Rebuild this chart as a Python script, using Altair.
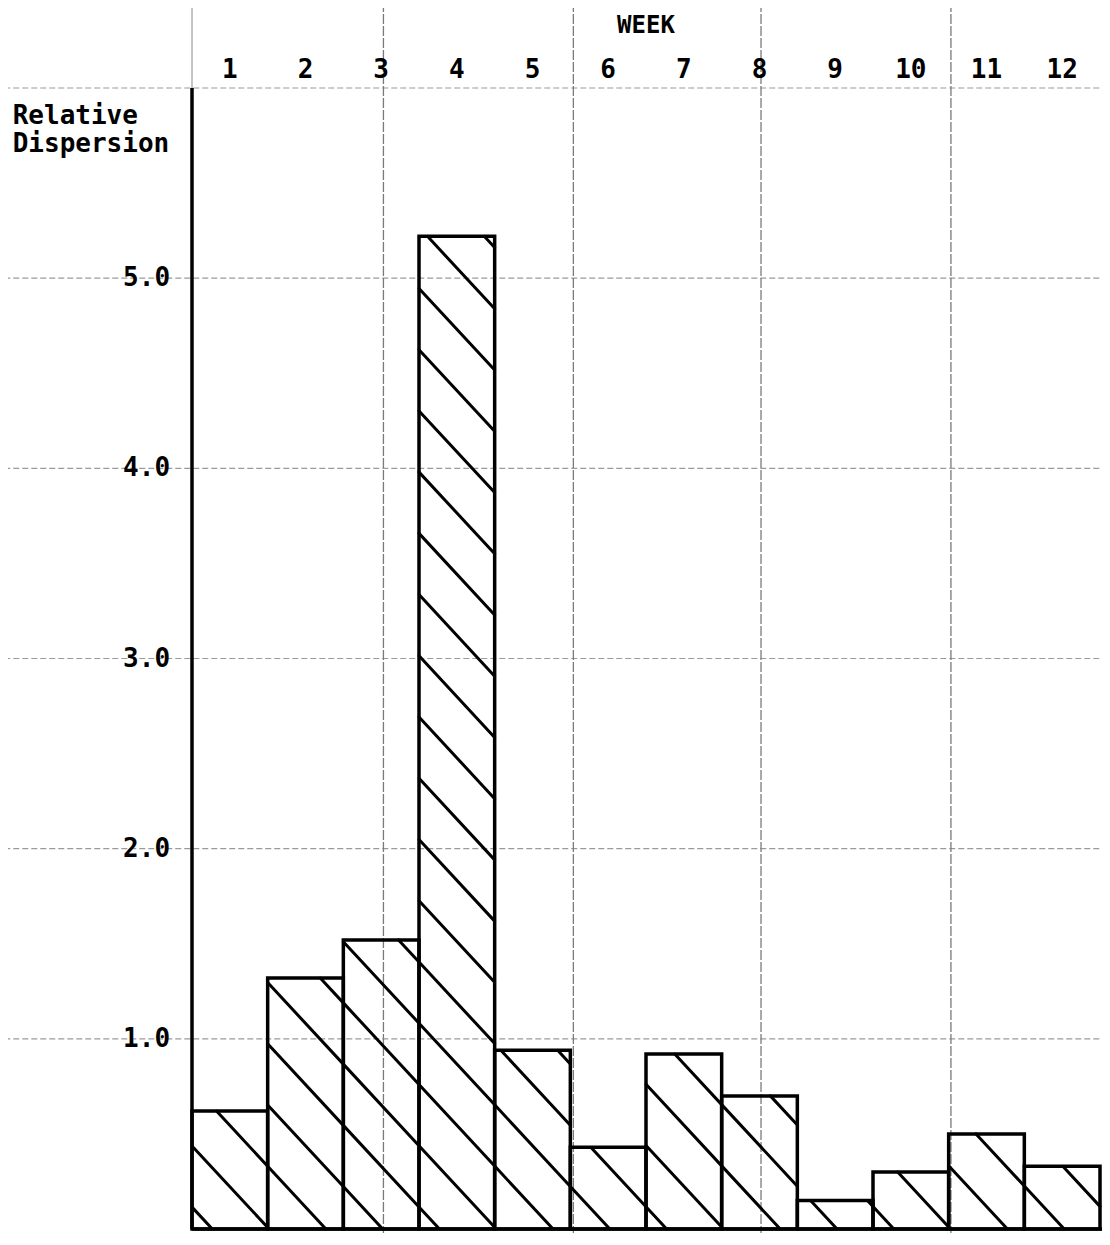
import altair as alt
import pandas as pd
import numpy as np

# ---------------- data ----------------
weeks = list(range(1, 13))
week_labels = [str(w) for w in weeks]
dispersion = [0.62, 1.32, 1.52, 5.22, 0.94, 0.43, 0.92, 0.70, 0.15, 0.30, 0.50, 0.33]
y_ticks = [1.0, 2.0, 3.0, 4.0, 5.0]
y_tick_labels = ["1.0", "2.0", "3.0", "4.0", "5.0"]
paper_grid_x = [2.53, 5.04, 7.52, 10.03]   # vertical lines of the graph paper (in weeks)
paper_grid_y = [1.0, 2.0, 3.0, 4.0, 5.0, 6.0]
y_title_lines = ["Relative", "Dispersion"]
x_title = "WEEK"

# hatch style (slope in value-units per week, spacing, phase)
HATCH_SLOPE = 0.429
HATCH_STEP = 0.322
HATCH_PHASE = 0.115

FONT = "DejaVu Sans Mono"

W, H = 1094, 1225
X0, X12 = 184.0, 1092.0  # pixel columns of week-edge 0 and 12
Y0, Y6 = 1221.0, 80.0    # pixel rows of value 0 and value 6

# ---------------- scales ----------------
xs = alt.Scale(domain=[0, 12], range=[X0, X12], nice=False, zero=False)
ys = alt.Scale(domain=[0, 6], range=[Y0, Y6], nice=False, zero=False)

def X(f):
    return alt.X(f, type="quantitative", scale=xs, axis=None)

def Y(f):
    return alt.Y(f, type="quantitative", scale=ys, axis=None)

# ---------------- tables ----------------
bars = pd.DataFrame({
    "x0": [w - 1 for w in weeks],
    "x1": weeks,
    "y0": [0.0] * 12,
    "v": dispersion,
})

segs = []
m, step, ph = HATCH_SLOPE, HATCH_STEP, HATCH_PHASE
for i, h in enumerate(dispersion):
    a, b = float(i), float(i + 1)
    kmin = int(np.floor((m * a - ph) / step)) - 1
    kmax = int(np.ceil((h + m * b - ph) / step)) + 1
    for k in range(kmin, kmax + 1):
        C = ph + k * step
        xa = max(a, (C - h) / m)
        xb = min(b, C / m)
        if xb - xa > 0.03:
            segs.append({"x": xa, "y": C - m * xa, "x2": xb, "y2": C - m * xb})
hatch = pd.DataFrame(segs)

hgrid = pd.DataFrame({"y": paper_grid_y, "xa": [-2.6] * len(paper_grid_y), "xb": [12.6] * len(paper_grid_y)})
vgrid = pd.DataFrame({"x": paper_grid_x, "ya": [-0.1] * len(paper_grid_x), "yb": [6.6] * len(paper_grid_x)})

ticks = pd.DataFrame({"y": y_ticks, "t": y_tick_labels, "x": [-0.29] * len(y_ticks)})
wk = pd.DataFrame({"x": [w - 0.5 for w in weeks], "t": week_labels, "y": [6.05] * 12})
ytitle = pd.DataFrame({"x": [-2.37, -2.37], "y": [5.81, 5.665], "t": y_title_lines})
xtitle = pd.DataFrame({"x": [6.0], "y": [6.29], "t": [x_title]})

axes = pd.DataFrame({
    "x": [0.0, 0.0, 0.0],
    "x2": [0.0, 12.6, 0.0],
    "y": [0.0, 0.0, 6.0],
    "y2": [6.0, 0.0, 6.6],
    "w": [3.5, 3.5, 1.0],
    "c": ["black", "black", "#8a8a8a"],
})

# ---------------- layers ----------------
hgrid_style = dict(stroke="#9a9a9a", strokeWidth=1.2, strokeDash=[6, 3])
vgrid_style = dict(stroke="#7a7a7a", strokeWidth=1.3, strokeDash=[10, 2])

hg = alt.Chart(hgrid).mark_rule(**hgrid_style).encode(y=Y("y"), x=X("xa"), x2="xb")
vg = alt.Chart(vgrid).mark_rule(**vgrid_style).encode(x=X("x"), y=Y("ya"), y2="yb")

ax = alt.Chart(axes).mark_rule().encode(
    x=X("x"), x2="x2", y=Y("y"), y2="y2",
    strokeWidth=alt.StrokeWidth("w:Q", scale=None),
    color=alt.Color("c:N", scale=None),
)

hatch_l = alt.Chart(hatch).mark_rule(color="black", strokeWidth=3, strokeCap="round").encode(
    x=X("x"), y=Y("y"), x2="x2", y2="y2"
)

bar_l = alt.Chart(bars).mark_rect(filled=False, stroke="black", strokeWidth=3.5).encode(
    x=X("x0"), x2="x1", y=Y("y0"), y2="v"
)

txt = dict(font=FONT, fontSize=26, fontWeight="bold", color="black")
tick_t = alt.Chart(ticks).mark_text(align="right", baseline="middle", **txt).encode(
    x=X("x"), y=Y("y"), text="t:N"
)
wk_t = alt.Chart(wk).mark_text(align="center", baseline="alphabetic", **txt).encode(
    x=X("x"), y=Y("y"), text="t:N"
)
yt = alt.Chart(ytitle).mark_text(align="left", baseline="alphabetic", **txt).encode(
    x=X("x"), y=Y("y"), text="t:N"
)
xt = alt.Chart(xtitle).mark_text(
    align="center", baseline="alphabetic", font=FONT, fontSize=24, fontWeight="bold", color="black"
).encode(x=X("x"), y=Y("y"), text="t:N")

chart = alt.layer(hg, vg, ax, hatch_l, bar_l, tick_t, wk_t, yt, xt).properties(
    width=W,
    height=H,
    autosize=alt.AutoSizeParams(type="none"),
    padding=0,
    background="white",
).configure_view(stroke=None)

chart.save("out.html", embed_options={"renderer": "svg", "actions": False})
